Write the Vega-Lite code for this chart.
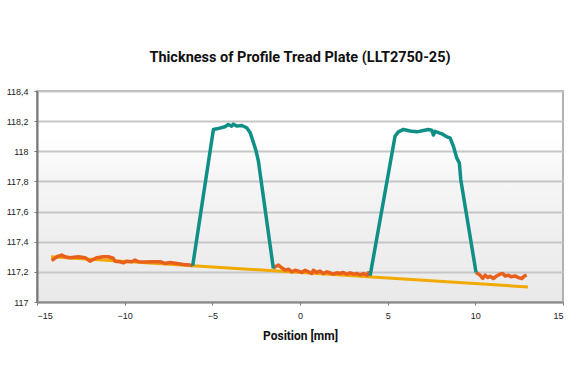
{
  "$schema": "https://vega.github.io/schema/vega-lite/v6.json",
  "width": 526,
  "height": 211,
  "autosize": "none",
  "padding": {"left": 37, "top": 91, "right": 13, "bottom": 82},
  "background": "white",
  "title": {"text": "Thickness of Profile Tread Plate (LLT2750-25)", "font": "Roboto", "fontSize": 14.5, "fontWeight": "bold", "color": "#111111", "offset": 22, "anchor": "middle"},
  "config": {
    "view": {"stroke": "#9a9a9a", "strokeWidth": 1.5, "fill": {"gradient": "linear", "x1": 0, "y1": 0, "x2": 0, "y2": 1, "stops": [{"offset": 0, "color": "#ffffff"}, {"offset": 0.22, "color": "#ffffff"}, {"offset": 0.42, "color": "#f5f5f5"}, {"offset": 1, "color": "#e9e9e9"}]}}
  },
  "data": {"values": [
    {"s": "r", "g": "R", "x": -14.2, "y": 117.30},
    {"s": "r", "g": "R", "x": 13.0, "y": 117.10},

    {"s": "o", "g": "A", "x": -14.16, "y": 117.275},
    {"s": "o", "g": "A", "x": -13.88, "y": 117.30},
    {"s": "o", "g": "A", "x": -13.59, "y": 117.311},
    {"s": "o", "g": "A", "x": -13.40, "y": 117.30},
    {"s": "o", "g": "A", "x": -13.12, "y": 117.294},
    {"s": "o", "g": "A", "x": -12.64, "y": 117.30},
    {"s": "o", "g": "A", "x": -12.26, "y": 117.294},
    {"s": "o", "g": "A", "x": -11.98, "y": 117.271},
    {"s": "o", "g": "A", "x": -11.60, "y": 117.294},
    {"s": "o", "g": "A", "x": -11.22, "y": 117.30},
    {"s": "o", "g": "A", "x": -10.93, "y": 117.30},
    {"s": "o", "g": "A", "x": -10.65, "y": 117.290},
    {"s": "o", "g": "A", "x": -10.55, "y": 117.271},
    {"s": "o", "g": "A", "x": -10.27, "y": 117.267},
    {"s": "o", "g": "A", "x": -10.07, "y": 117.260},
    {"s": "o", "g": "A", "x": -9.88, "y": 117.271},
    {"s": "o", "g": "A", "x": -9.60, "y": 117.267},
    {"s": "o", "g": "A", "x": -9.41, "y": 117.278},
    {"s": "o", "g": "A", "x": -9.22, "y": 117.267},
    {"s": "o", "g": "A", "x": -8.94, "y": 117.265},
    {"s": "o", "g": "A", "x": -8.36, "y": 117.267},
    {"s": "o", "g": "A", "x": -7.98, "y": 117.267},
    {"s": "o", "g": "A", "x": -7.70, "y": 117.256},
    {"s": "o", "g": "A", "x": -7.41, "y": 117.262},
    {"s": "o", "g": "A", "x": -7.03, "y": 117.256},
    {"s": "o", "g": "A", "x": -6.65, "y": 117.249},
    {"s": "o", "g": "A", "x": -6.27, "y": 117.245},
    {"s": "o", "g": "A", "x": -6.12, "y": 117.240},

    {"s": "t", "g": "T1", "x": -6.12, "y": 117.240},
    {"s": "t", "g": "T1", "x": -4.94, "y": 118.145},
    {"s": "t", "g": "T1", "x": -4.75, "y": 118.149},
    {"s": "t", "g": "T1", "x": -4.28, "y": 118.163},
    {"s": "t", "g": "T1", "x": -4.09, "y": 118.178},
    {"s": "t", "g": "T1", "x": -3.90, "y": 118.167},
    {"s": "t", "g": "T1", "x": -3.80, "y": 118.180},
    {"s": "t", "g": "T1", "x": -3.61, "y": 118.167},
    {"s": "t", "g": "T1", "x": -3.32, "y": 118.171},
    {"s": "t", "g": "T1", "x": -3.04, "y": 118.156},
    {"s": "t", "g": "T1", "x": -2.84, "y": 118.123},
    {"s": "t", "g": "T1", "x": -2.65, "y": 118.056},
    {"s": "t", "g": "T1", "x": -2.50, "y": 118.000},
    {"s": "t", "g": "T1", "x": -2.37, "y": 117.933},
    {"s": "t", "g": "T1", "x": -1.52, "y": 117.223},

    {"s": "o", "g": "B", "x": -1.52, "y": 117.223},
    {"s": "o", "g": "B", "x": -1.42, "y": 117.234},
    {"s": "o", "g": "B", "x": -1.23, "y": 117.245},
    {"s": "o", "g": "B", "x": -1.04, "y": 117.227},
    {"s": "o", "g": "B", "x": -0.85, "y": 117.211},
    {"s": "o", "g": "B", "x": -0.66, "y": 117.218},
    {"s": "o", "g": "B", "x": -0.47, "y": 117.200},
    {"s": "o", "g": "B", "x": -0.28, "y": 117.211},
    {"s": "o", "g": "B", "x": -0.09, "y": 117.205},
    {"s": "o", "g": "B", "x": 0.10, "y": 117.196},
    {"s": "o", "g": "B", "x": 0.29, "y": 117.211},
    {"s": "o", "g": "B", "x": 0.48, "y": 117.200},
    {"s": "o", "g": "B", "x": 0.67, "y": 117.189},
    {"s": "o", "g": "B", "x": 0.76, "y": 117.211},
    {"s": "o", "g": "B", "x": 0.96, "y": 117.196},
    {"s": "o", "g": "B", "x": 1.14, "y": 117.205},
    {"s": "o", "g": "B", "x": 1.33, "y": 117.189},
    {"s": "o", "g": "B", "x": 1.53, "y": 117.200},
    {"s": "o", "g": "B", "x": 1.71, "y": 117.194},
    {"s": "o", "g": "B", "x": 1.90, "y": 117.185},
    {"s": "o", "g": "B", "x": 2.10, "y": 117.194},
    {"s": "o", "g": "B", "x": 2.28, "y": 117.189},
    {"s": "o", "g": "B", "x": 2.47, "y": 117.196},
    {"s": "o", "g": "B", "x": 2.67, "y": 117.185},
    {"s": "o", "g": "B", "x": 2.86, "y": 117.194},
    {"s": "o", "g": "B", "x": 3.05, "y": 117.185},
    {"s": "o", "g": "B", "x": 3.24, "y": 117.189},
    {"s": "o", "g": "B", "x": 3.43, "y": 117.180},
    {"s": "o", "g": "B", "x": 3.62, "y": 117.189},
    {"s": "o", "g": "B", "x": 3.81, "y": 117.178},
    {"s": "o", "g": "B", "x": 3.90, "y": 117.194},
    {"s": "o", "g": "B", "x": 4.00, "y": 117.175},

    {"s": "t", "g": "T2", "x": 4.00, "y": 117.175},
    {"s": "t", "g": "T2", "x": 5.42, "y": 118.100},
    {"s": "t", "g": "T2", "x": 5.61, "y": 118.129},
    {"s": "t", "g": "T2", "x": 5.90, "y": 118.145},
    {"s": "t", "g": "T2", "x": 6.28, "y": 118.135},
    {"s": "t", "g": "T2", "x": 6.66, "y": 118.129},
    {"s": "t", "g": "T2", "x": 7.04, "y": 118.138},
    {"s": "t", "g": "T2", "x": 7.32, "y": 118.145},
    {"s": "t", "g": "T2", "x": 7.51, "y": 118.140},
    {"s": "t", "g": "T2", "x": 7.61, "y": 118.108},
    {"s": "t", "g": "T2", "x": 7.70, "y": 118.132},
    {"s": "t", "g": "T2", "x": 8.09, "y": 118.116},
    {"s": "t", "g": "T2", "x": 8.37, "y": 118.096},
    {"s": "t", "g": "T2", "x": 8.56, "y": 118.089},
    {"s": "t", "g": "T2", "x": 8.75, "y": 118.033},
    {"s": "t", "g": "T2", "x": 8.94, "y": 117.956},
    {"s": "t", "g": "T2", "x": 9.09, "y": 117.922},
    {"s": "t", "g": "T2", "x": 9.17, "y": 117.811},
    {"s": "t", "g": "T2", "x": 10.04, "y": 117.196},

    {"s": "o", "g": "C", "x": 10.04, "y": 117.196},
    {"s": "o", "g": "C", "x": 10.27, "y": 117.178},
    {"s": "o", "g": "C", "x": 10.42, "y": 117.156},
    {"s": "o", "g": "C", "x": 10.56, "y": 117.178},
    {"s": "o", "g": "C", "x": 10.71, "y": 117.162},
    {"s": "o", "g": "C", "x": 10.84, "y": 117.171},
    {"s": "o", "g": "C", "x": 11.03, "y": 117.156},
    {"s": "o", "g": "C", "x": 11.22, "y": 117.173},
    {"s": "o", "g": "C", "x": 11.41, "y": 117.185},
    {"s": "o", "g": "C", "x": 11.56, "y": 117.189},
    {"s": "o", "g": "C", "x": 11.70, "y": 117.173},
    {"s": "o", "g": "C", "x": 11.89, "y": 117.178},
    {"s": "o", "g": "C", "x": 12.04, "y": 117.167},
    {"s": "o", "g": "C", "x": 12.27, "y": 117.173},
    {"s": "o", "g": "C", "x": 12.46, "y": 117.162},
    {"s": "o", "g": "C", "x": 12.65, "y": 117.156},
    {"s": "o", "g": "C", "x": 12.78, "y": 117.171},
    {"s": "o", "g": "C", "x": 12.93, "y": 117.178}
  ]},
  "encoding": {
    "x": {"field": "x", "type": "quantitative",
      "scale": {"domain": [-15, 15], "nice": false, "zero": false},
      "axis": {"values": [-15, -10, -5, 0, 5, 10, 15], "title": "Position [mm]", "grid": false,
        "tickSize": 3, "tickColor": "#777777", "domainColor": "#8a8a8a", "domainWidth": 2,
        "labelFont": "Liberation Sans", "labelFontSize": 9, "labelColor": "#222222", "labelPadding": 6,
        "titleFont": "Roboto", "titleFontSize": 12, "titleFontWeight": "bold", "titleColor": "#111111", "titlePadding": 10}},
    "y": {"field": "y", "type": "quantitative",
      "scale": {"domain": [117, 118.4], "nice": false, "zero": false},
      "axis": {"values": [117, 117.2, 117.4, 117.6, 117.8, 118, 118.2, 118.4], "format": "~g",
        "labelExpr": "replace(datum.label, '.', ',')", "title": null, "grid": true,
        "gridColor": "#c6c6c6", "gridWidth": 2, "tickSize": 3, "tickColor": "#777777",
        "domainColor": "#777777", "domainWidth": 2,
        "labelFont": "Liberation Sans", "labelFontSize": 9, "labelColor": "#222222", "labelPadding": 6}}
  },
  "layer": [
    {"transform": [{"filter": "datum.s == 'r'"}], "mark": {"type": "line", "color": "#f2a900", "strokeWidth": 3}, "encoding": {"detail": {"field": "g"}}},
    {"transform": [{"filter": "datum.s == 'o'"}], "mark": {"type": "line", "color": "#e8601c", "strokeWidth": 3.5, "strokeJoin": "round"}, "encoding": {"detail": {"field": "g"}}},
    {"transform": [{"filter": "datum.s == 't'"}], "mark": {"type": "line", "color": "#0f8f86", "strokeWidth": 3.5, "strokeJoin": "round"}, "encoding": {"detail": {"field": "g"}}}
  ]
}
